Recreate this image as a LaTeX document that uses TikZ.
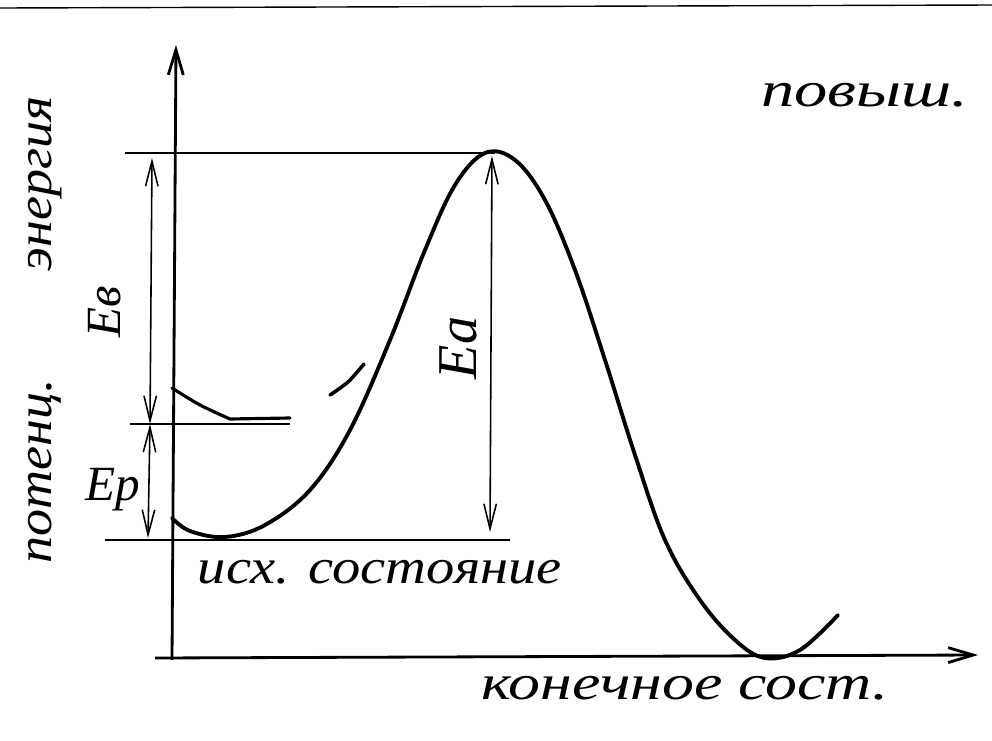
\documentclass[tikz,border=0pt]{standalone}
\usepackage{fontspec}
\setmainfont{Liberation Serif}
\usetikzlibrary{arrows.meta}

\tikzset{
	axis/.style={line width=1.6pt, -{Straight Barb[length=5mm, width=3mm]}},
	level/.style={line width=0.8pt},
	gap/.style={line width=0.9pt, {Straight Barb[length=5mm, width=2.5mm]}-{Straight Barb[length=5mm, width=2.5mm]}},
	curve/.style={line width=2.2pt, line cap=round, line join=round},
	hand/.style={font=\itshape\fontsize{28}{32}\selectfont, inner sep=0pt, transform shape}
}

\begin{document}
\begin{tikzpicture}[x=0.02cm, y=-0.02cm]
	\useasboundingbox (0,0) rectangle (992,741);
	% axes
	\coordinate (O) at (172,660);
	\coordinate (Ytop) at (176,45);
	\coordinate (Xleft) at (155,658);
	\coordinate (Xright) at (978,655);
	\draw[axis] (O) -- (Ytop);
	\draw[axis] (Xleft) -- (Xright);
	\draw[level] (0,8) -- (992,5);
	% levels
	\coordinate (top1) at (125,153);
	\coordinate (top2) at (495,153);
	\coordinate (mid1) at (130,424);
	\coordinate (mid2) at (290,424);
	\coordinate (low1) at (105,540);
	\coordinate (low2) at (510,540);
	\draw[level] (top1) -- (top2);
	\draw[level] (mid1) -- (mid2);
	\draw[level] (low1) -- (low2);
	% energies
	\coordinate (eb1) at (152,158);
	\coordinate (eb2) at (150,424);
	\coordinate (ep1) at (150,424);
	\coordinate (ep2) at (148,538);
	\coordinate (ea1) at (492,156);
	\coordinate (ea2) at (490,532);
	\draw[gap] (eb2) -- (eb1);
	\draw[gap] (ep1) -- (ep2);
	\draw[gap] (ea1) -- (ea2);
	% curves
	\draw[curve] plot[smooth, tension=0.6] coordinates {(172,518) (190,531) (225,537) (265,525) (310,490) (350,430) (390,340) (425,250) (455,185) (485,153) (515,160) (545,200) (575,270) (605,360) (635,455) (665,540) (700,600) (735,640) (765,658) (800,650) (838,615)};
	\draw[curve, line width=1.8pt] plot[smooth] coordinates {(172,388) (200,405) (230,419)} -- (290,418);
	\draw[curve, line width=2pt] plot[smooth] coordinates {(330,395) (348,382) (364,364)};
	% labels
	\node[hand, rotate=90, xscale=1.1] (pot) at (45,330) {потенц.\hspace{2em}энергия};
	\node[hand, rotate=90] (Eb) at (105,312) {Ев};
	\node[hand] (Ep) at (113,490) {Ер};
	\node[hand, rotate=90, font=\itshape\fontsize{32}{36}\selectfont] (Ea) at (458,348) {Еа};
	\node[hand, xscale=1.15] (ish) at (380,572) {исх. состояние};
	\node[hand, xscale=1.3] (kon) at (685,688) {конечное сост.};
	\node[hand, xscale=1.35] (pov) at (865,95) {повыш.};
\end{tikzpicture}
\end{document}
